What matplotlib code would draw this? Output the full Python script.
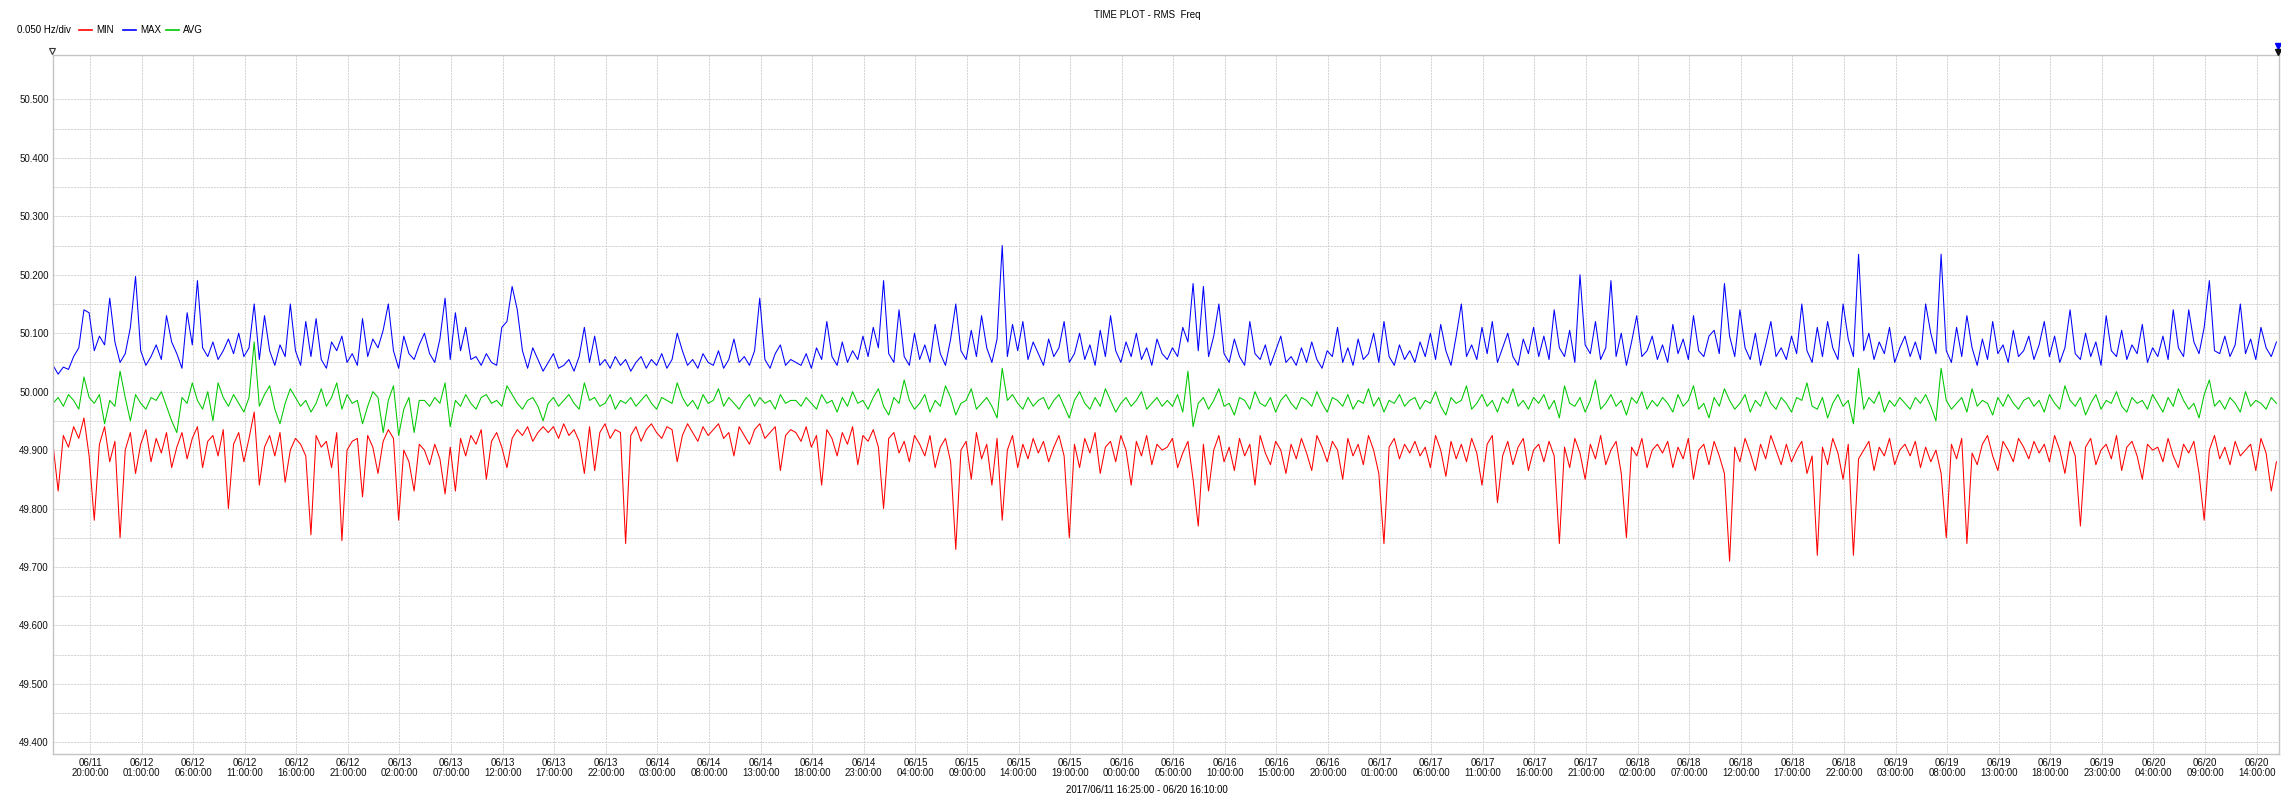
import numpy as np
import pandas as pd
import matplotlib
matplotlib.use("Agg")
from matplotlib import pyplot as plt
import matplotlib.dates as mdates
from matplotlib.lines import Line2D

plt.rcParams['font.family'] = ['Liberation Sans', 'DejaVu Sans']

# 30 min aggregates, frequency deviation from 50 Hz in mHz
max_mhz = [
    45, 30, 42, 38, 60, 75, 140, 135, 70, 95, 80, 160, 85, 50, 65, 110, 197, 70, 45, 60, 80, 55, 130, 85,
    65, 40, 135, 80, 190, 75, 60, 85, 55, 70, 90, 65, 100, 60, 75, 150, 55, 130, 70, 45, 80, 60, 150, 70,
    45, 120, 60, 125, 55, 40, 85, 70, 95, 50, 65, 45, 125, 60, 90, 75, 105, 150, 70, 40, 95, 65, 55, 80,
    100, 65, 50, 90, 160, 55, 135, 70, 110, 55, 60, 45, 65, 50, 45, 110, 120, 180, 140, 70, 40, 75, 55, 35,
    50, 65, 40, 45, 55, 35, 60, 110, 50, 95, 45, 55, 40, 60, 45, 55, 35, 50, 60, 40, 55, 45, 65, 40,
    55, 100, 70, 45, 55, 40, 65, 50, 45, 70, 40, 55, 90, 50, 60, 45, 70, 160, 55, 40, 65, 80, 45, 55,
    50, 45, 65, 40, 75, 55, 120, 60, 45, 85, 50, 70, 55, 95, 60, 110, 75, 190, 65, 50, 140, 60, 45, 100,
    55, 80, 50, 115, 65, 45, 90, 150, 70, 55, 105, 60, 130, 75, 50, 90, 250, 60, 115, 70, 120, 55, 85, 65,
    45, 90, 60, 75, 120, 50, 65, 100, 55, 80, 45, 105, 60, 130, 70, 50, 85, 60, 100, 55, 75, 45, 90, 65,
    55, 75, 60, 110, 85, 185, 70, 180, 60, 95, 150, 65, 50, 90, 60, 45, 120, 65, 55, 80, 45, 70, 95, 50,
    60, 45, 75, 50, 85, 55, 40, 70, 60, 110, 50, 75, 45, 90, 55, 65, 100, 50, 120, 60, 45, 80, 55, 70,
    50, 85, 60, 100, 55, 115, 70, 45, 95, 150, 60, 80, 55, 110, 65, 120, 50, 75, 100, 60, 45, 90, 65, 110,
    60, 95, 55, 140, 75, 60, 105, 50, 200, 80, 65, 120, 55, 75, 190, 60, 100, 45, 85, 130, 60, 70, 95, 55,
    80, 50, 115, 65, 90, 55, 130, 70, 60, 95, 105, 65, 185, 95, 60, 140, 75, 55, 100, 45, 80, 120, 60, 75,
    55, 95, 65, 150, 70, 50, 110, 60, 120, 75, 55, 150, 90, 60, 235, 70, 100, 55, 85, 65, 110, 50, 75, 95,
    60, 85, 55, 150, 100, 65, 235, 70, 50, 110, 60, 130, 75, 45, 90, 55, 120, 65, 80, 50, 105, 60, 70, 95,
    55, 80, 120, 60, 95, 50, 75, 140, 65, 55, 100, 60, 85, 45, 130, 70, 60, 105, 55, 80, 65, 115, 50, 75,
    60, 95, 55, 140, 75, 60, 140, 85, 65, 110, 190, 70, 65, 95, 60, 80, 150, 65, 90, 55, 110, 75, 60, 85,
]

avg_mhz = [
    -20, -10, -25, -5, -15, -30, 25, -10, -20, -5, -55, -15, -25, 35, -10, -50, -5, -20, -30, -10, -15, 0, -25, -50,
    -70, -10, -20, 15, -15, -30, 0, -50, 15, -10, -25, -5, -20, -35, -10, 85, -25, -5, 10, -30, -55, -20, 5, -10,
    -25, -15, -35, -20, 5, -25, -10, 15, -30, -5, -20, -15, -55, -25, 0, -10, -70, -15, 10, -75, -30, -10, -70, -15,
    -15, -25, -10, -20, 15, -60, -15, -25, -5, -20, -30, -10, -5, -20, -15, -25, 10, -5, -20, -30, -15, -10, -25, -50,
    -20, -10, -25, -15, -5, -20, -30, 15, -15, -10, -25, -20, -5, -30, -15, -20, -10, -25, -15, -5, -20, -30, -10, -15,
    -20, 15, -10, -25, -15, -30, -5, -20, -15, 5, -25, -10, -20, -30, -15, -5, -25, -10, -20, -15, -30, -5, -20, -15,
    -15, -25, -10, -20, -30, -5, -20, -15, -35, -10, -25, 0, -20, -15, -30, -10, 5, -25, -40, -10, -20, 20, -15, -30,
    -20, -5, -35, -15, -25, 10, -10, -40, -20, -15, 5, -30, -20, -10, -25, -45, 40, -15, -5, -20, -30, -10, -25, -15,
    -10, -30, -15, -5, -25, -45, -15, 0, -20, -30, -10, -25, 5, -15, -35, -20, -10, -25, -15, 0, -30, -20, -10, -25,
    -15, -25, -5, -35, 35, -60, -20, -10, -30, -15, 5, -25, -20, -40, -10, -15, -30, 0, -20, -25, -10, -35, -15, -5,
    -20, -30, -10, -15, -25, 0, -20, -35, -10, -15, -25, -5, -30, -15, -20, 5, -25, -10, -35, -15, -20, -5, -25, -15,
    -10, -30, -15, -20, 0, -25, -40, -10, -20, -15, 10, -30, -20, -5, -25, -15, -35, -10, -20, 5, -25, -15, -30, -10,
    -20, -5, -30, -15, -45, 10, -20, -25, -10, -35, -15, 20, -30, -20, -5, -25, -15, -40, -10, -20, 0, -30, -15, -25,
    -10, -20, -35, -5, -25, -15, 10, -30, -20, -45, -10, -25, 5, -15, -30, -20, -5, -35, -15, -25, 0, -20, -30, -10,
    -20, -35, -10, -15, 15, -25, -30, -10, -45, -20, -5, -25, -15, -55, 40, -30, -10, -20, 0, -35, -15, -25, -10, -20,
    -30, -10, -20, -5, -25, -50, 40, -15, -30, -20, -10, -35, 5, -25, -15, -20, -40, -10, -25, -5, -20, -30, -15, -10,
    -25, -15, -35, -5, -20, -30, 10, -15, -25, -10, -40, -20, -5, -30, -15, -20, 0, -25, -35, -10, -20, -15, -30, -5,
    -20, -35, -10, -25, 5, -15, -30, -20, -45, -5, 20, -25, -15, -30, -10, -20, -35, 0, -25, -15, -20, -30, -10, -20,
]

min_mhz = [
    -90, -170, -75, -95, -60, -80, -45, -110, -220, -90, -60, -120, -85, -250, -100, -70, -140, -90, -65, -120, -80, -105, -70, -130,
    -95, -70, -115, -80, -60, -130, -85, -75, -110, -65, -200, -90, -70, -120, -80, -35, -160, -95, -75, -110, -70, -155, -100, -80,
    -90, -110, -245, -75, -95, -85, -130, -70, -255, -100, -85, -80, -180, -75, -95, -140, -85, -65, -80, -220, -100, -120, -170, -90,
    -100, -125, -90, -115, -175, -95, -170, -80, -110, -75, -90, -65, -150, -85, -70, -95, -130, -80, -65, -75, -60, -85, -70, -60,
    -70, -60, -80, -55, -75, -65, -85, -140, -60, -135, -70, -55, -80, -65, -70, -260, -75, -60, -85, -65, -55, -70, -80, -60,
    -65, -120, -75, -55, -70, -85, -60, -75, -65, -55, -80, -70, -110, -60, -75, -90, -65, -55, -80, -70, -60, -135, -75, -65,
    -70, -85, -60, -95, -75, -160, -65, -80, -110, -70, -90, -60, -125, -75, -85, -65, -95, -200, -80, -70, -105, -85, -120, -75,
    -90, -110, -75, -130, -95, -80, -120, -270, -100, -85, -150, -70, -115, -90, -160, -80, -220, -100, -75, -130, -90, -115, -80, -105,
    -85, -120, -95, -75, -110, -250, -90, -130, -80, -105, -70, -140, -95, -85, -120, -75, -100, -160, -85, -110, -75, -125, -90, -100,
    -95, -80, -130, -105, -85, -150, -230, -90, -170, -100, -75, -120, -95, -135, -80, -110, -90, -160, -75, -105, -125, -85, -100, -140,
    -90, -115, -80, -105, -135, -75, -95, -120, -85, -100, -150, -80, -110, -90, -125, -75, -100, -140, -260, -95, -80, -115, -90, -105,
    -85, -110, -95, -130, -75, -100, -145, -85, -115, -90, -120, -80, -105, -160, -90, -75, -190, -110, -85, -125, -95, -80, -135, -100,
    -90, -120, -85, -110, -260, -95, -130, -80, -105, -150, -90, -115, -75, -125, -100, -85, -140, -250, -95, -110, -80, -130, -100, -90,
    -105, -85, -130, -95, -115, -80, -150, -100, -90, -125, -85, -110, -140, -290, -95, -120, -80, -105, -135, -90, -115, -75, -100, -125,
    -90, -120, -100, -85, -140, -110, -280, -95, -125, -80, -105, -150, -90, -280, -115, -100, -85, -135, -95, -110, -80, -125, -100, -90,
    -110, -85, -130, -95, -120, -100, -140, -250, -90, -115, -80, -260, -105, -125, -90, -75, -110, -135, -85, -100, -120, -80, -95, -115,
    -85, -105, -90, -120, -75, -100, -140, -85, -110, -230, -95, -80, -125, -100, -90, -115, -75, -135, -95, -85, -110, -150, -90, -100,
    -95, -120, -80, -110, -130, -90, -105, -85, -140, -220, -100, -75, -115, -95, -125, -85, -110, -100, -90, -135, -80, -105, -170, -120,
]

t_start = pd.Timestamp('2017-06-11 16:25')
t_end = pd.Timestamp('2017-06-20 16:10')
times = pd.date_range(t_start, periods=len(max_mhz), freq='30min')

f_min = 50.0 + np.array(min_mhz) / 1000.0
f_max = 50.0 + np.array(max_mhz) / 1000.0
f_avg = 50.0 + np.array(avg_mhz) / 1000.0

W, H = 2281, 801
fig = plt.figure(figsize=(W / 100, H / 100), dpi=100)
ax = fig.add_axes([53 / W, 47 / H, (2279 - 53) / W, (754 - 55) / H])

lw = 0.75
ax.plot(times, f_min, color='#ff0000', lw=lw)
ax.plot(times, f_max, color='#0000ff', lw=lw)
ax.plot(times, f_avg, color='#00c800', lw=lw)

ax.set_xlim(t_start, t_end)
ax.set_ylim(49.38, 50.576)

ticks = pd.date_range('2017-06-11 20:00', t_end, freq='5h')
ax.set_xticks(ticks)
ax.xaxis.set_major_formatter(mdates.DateFormatter('%m/%d\n%H:%M:%S'))
ax.set_yticks(np.arange(49.4, 50.55, 0.1))
ax.set_yticks(np.arange(49.45, 50.55, 0.1), minor=True)
ax.yaxis.set_major_formatter(matplotlib.ticker.FormatStrFormatter('%.3f'))

ax.tick_params(axis='both', which='both', length=0, labelsize=7, colors='#111111', pad=3)
for lab in ax.get_xticklabels():
    lab.set_linespacing(1.0)

grid_kw = dict(color='#d2d2d2', linestyle=(0, (2, 1)), linewidth=0.7)
ax.grid(True, which='major', axis='both', **grid_kw)
ax.grid(True, which='minor', axis='y', **grid_kw)
ax.set_axisbelow(True)
for sp in ax.spines.values():
    sp.set_color('#c4c4c4')
    sp.set_linewidth(1.0)

# header texts
fig.text(1147 / W, 1 - 15 / H, 'TIME PLOT - RMS  Freq', ha='center', va='center', fontsize=7)
fig.text(1147 / W, 1 - 790 / H, '2017/06/11 16:25:00 - 06/20 16:10:00', ha='center', va='center', fontsize=7)
fig.text(17 / W, 1 - 30 / H, '0.050 Hz/div', ha='left', va='center', fontsize=7)

legend_items = [('MIN', '#ff0000', 79), ('MAX', '#0000ff', 123), ('AVG', '#00c800', 166)]
for name, col, x0 in legend_items:
    fig.add_artist(Line2D([x0 / W, (x0 + 13) / W], [1 - 30 / H, 1 - 30 / H],
                          color=col, lw=1.2, transform=fig.transFigure))
    fig.text((x0 + 17) / W, 1 - 30 / H, name, ha='left', va='center', fontsize=7)

# cursor markers
fig.add_artist(Line2D([52 / W], [1 - 51 / H], marker='v', markersize=4.5, markerfacecolor='white',
                      markeredgecolor='#333333', markeredgewidth=0.8, linestyle='none',
                      transform=fig.transFigure))
fig.add_artist(Line2D([2278 / W], [1 - 46 / H], marker='v', markersize=4.5, color='#0000ff',
                      linestyle='none', transform=fig.transFigure))
fig.add_artist(Line2D([2278 / W], [1 - 52 / H], marker='v', markersize=4.5, color='#111111',
                      linestyle='none', transform=fig.transFigure))

fig.savefig('out.png', dpi=100, facecolor='white')
